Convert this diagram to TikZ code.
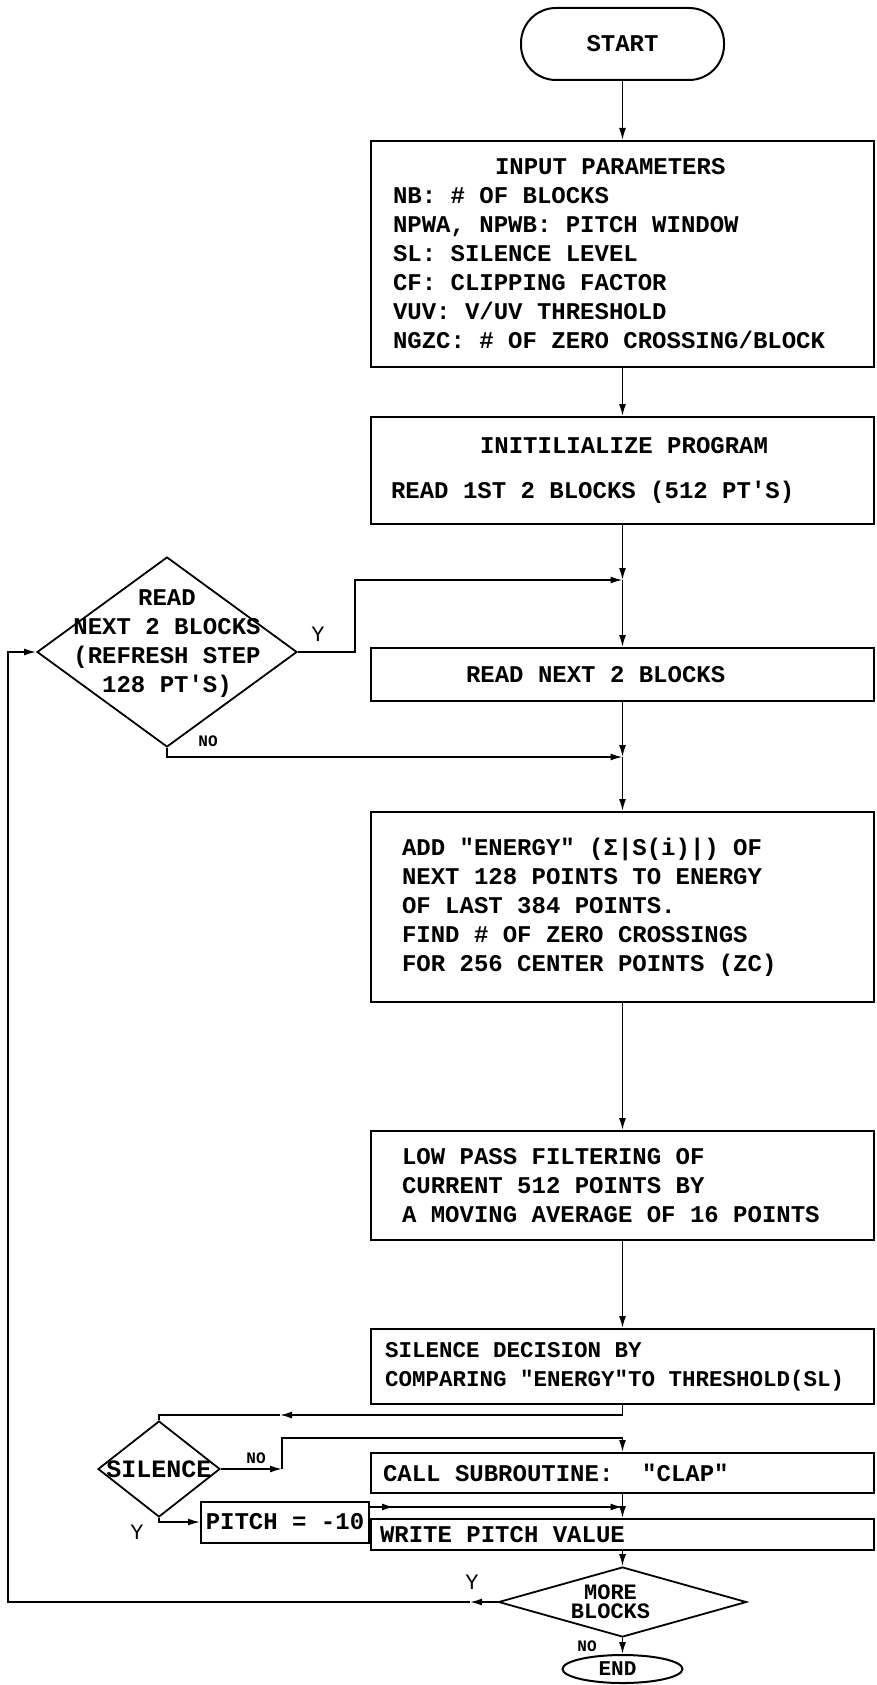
\documentclass[tikz,border=0pt]{standalone}
\usepackage{fontspec}
\setmonofont{Liberation Mono}
\usetikzlibrary{shapes.geometric,arrows.meta}

\tikzset{
  procbox/.style={draw, line width=2pt, rectangle, minimum width=503pt,
    inner xsep=0pt, inner ysep=1pt, align=left, text width=#1,
    execute at begin node={\spaceskip=0pt\xspaceskip=0pt\relax}},
  decision/.style={draw, line width=1.8pt, diamond, inner sep=0pt},
  dtext/.style={align=center, inner sep=0pt},
  flow/.style={line width=1.6pt},
  lbl/.style={font=\ttfamily\bfseries\fontsize{16}{16}\selectfont, inner sep=0pt},
  ylbl/.style={font=\ttfamily\fontsize{22}{22}\selectfont, inner sep=0pt}
}

\begin{document}
\begin{tikzpicture}[x=1pt, y=-1pt, >={Latex[length=12pt,width=7pt]},
    font=\ttfamily\bfseries\fontsize{24}{29}\selectfont]
    \useasboundingbox (0,0) rectangle (876,1685);

    % --- Main column of boxes ---
    \node[draw, line width=2pt, rounded corners=35pt, minimum width=203pt,
          minimum height=72pt] (start) at (622.5,44) {START};
    \node[procbox=459pt, minimum height=226pt] (input) at (622.5,254)
        {\hspace*{102pt}INPUT PARAMETERS\\
         NB: \# OF BLOCKS\\
         NPWA, NPWB: PITCH WINDOW\\
         SL: SILENCE LEVEL\\
         CF: CLIPPING FACTOR\\
         VUV: V/UV THRESHOLD\\
         NGZC: \# OF ZERO CROSSING/BLOCK};
    \node[procbox=463pt, minimum height=107pt] (init) at (622.5,470.5)
        {\hspace*{89pt}INITILIALIZE PROGRAM\\[16pt]
         READ 1ST 2 BLOCKS (512 PT'S)};
    \node[procbox=463pt, minimum height=53pt] (readnext) at (622.5,674.5)
        {\hspace*{75pt}READ NEXT 2 BLOCKS};
    \node[procbox=441pt, minimum height=190pt] (energy) at (622.5,907)
        {ADD "ENERGY" (Σ|S(i)|) OF\\
         NEXT 128 POINTS TO ENERGY\\
         OF LAST 384 POINTS.\\
         FIND \# OF ZERO CROSSINGS\\
         FOR 256 CENTER POINTS (ZC)};
    \node[procbox=441pt, minimum height=109pt] (lowpass) at (622.5,1185.5)
        {LOW PASS FILTERING OF\\
         CURRENT 512 POINTS BY\\
         A MOVING AVERAGE OF 16 POINTS};
    \node[procbox=475pt, minimum height=75pt,
          font=\ttfamily\bfseries\fontsize{22.5}{29}\selectfont] (sildec) at (622.5,1366.5)
        {SILENCE DECISION BY\\
         COMPARING "ENERGY"TO THRESHOLD(SL)};
    \node[procbox=479pt, minimum height=40pt] (clap) at (622.5,1473)
        {CALL SUBROUTINE:~~"CLAP"};
    \node[procbox=485pt, minimum height=31pt] (write) at (622.5,1534.5)
        {WRITE PITCH VALUE};

    % --- Decisions and side boxes ---
    \node[decision, minimum width=260pt, minimum height=190pt,
          label={[dtext, yshift=8pt]center:{READ\\NEXT 2 BLOCKS\\(REFRESH STEP\\128 PT'S)}}]
          (rdblk) at (167,652) {};
    \node[decision, minimum width=122pt, minimum height=96pt,
          label={[dtext, font=\ttfamily\bfseries\fontsize{25}{25}\selectfont]center:SILENCE}]
          (silence) at (159,1469) {};
    \node[draw, line width=2pt, minimum width=168pt, minimum height=41pt,
          inner sep=0pt] (pitch) at (285,1522) {PITCH = -10};
    \node[decision, minimum width=248pt, minimum height=70pt,
          label={[dtext, xshift=-12pt, font=\ttfamily\bfseries\fontsize{22}{19}\selectfont]center:{MORE\\BLOCKS}}]
          (more) at (622.5,1602) {};
    \node[draw, line width=2pt, ellipse, minimum width=120pt, minimum height=28pt,
          inner sep=0pt,
          label={[dtext, xshift=-5pt, font=\ttfamily\bfseries\fontsize{21}{21}\selectfont]center:END}]
          (endn) at (622.5,1669) {};

    % --- Junction points ---
    \coordinate (jy) at (622.5,580);
    \coordinate (jn) at (622.5,757);
    \coordinate (ksil) at (280,1415);
    \coordinate (kno) at (282,1469);
    \coordinate (jno) at (622.5,1438);
    \coordinate (jpitch) at (622.5,1507);
    \coordinate (kmore) at (470,1602);
    \coordinate (kloop) at (8,1602);

    % --- Connectors ---
    \draw[flow, ->] (start) -- (input);
    \draw[flow, ->] (input) -- (init);
    \draw[flow, ->] (init) -- (jy);
    \draw[flow, ->] (jy) -- (readnext);
    \draw[flow, ->] (rdblk.east) -- ++(57,0) |- (jy);
    \draw[flow, ->] (readnext) -- (jn);
    \draw[flow, ->] (rdblk.south) |- (jn);
    \draw[flow, ->] (jn) -- (energy);
    \draw[flow, ->] (energy) -- (lowpass);
    \draw[flow, ->] (lowpass) -- (sildec);
    \draw[flow, ->] (sildec.south) |- (ksil);
    \draw[flow] (ksil) -| (silence.north);
    \draw[flow, ->] (silence.east) -- (kno);
    \draw[flow, ->] (kno) |- (jno) -- (clap.north);
    \draw[flow, ->] (silence.south) |- (pitch.west);
    \draw[flow, ->] (pitch.east |- jpitch) -- ++(24,0);
    \draw[flow, ->] (pitch.east |- jpitch) -- (jpitch);
    \draw[flow, ->] (clap) -- (write);
    \draw[flow, ->] (write) -- (more);
    \draw[flow, ->] (more.west) -- (kmore);
    \draw[flow, ->] (kmore) -- (kloop) |- (rdblk.west);
    \draw[flow, ->] (more) -- (endn);

    % --- Branch labels ---
    \node[ylbl] (yread) at (318,634) {Y};
    \node[lbl] (nread) at (208,741) {NO};
    \node[lbl] (nsil) at (256,1458) {NO};
    \node[ylbl] (ysil) at (137,1532) {Y};
    \node[ylbl] (ymore) at (472,1582) {Y};
    \node[lbl] (nmore) at (587,1646) {NO};
\end{tikzpicture}
\end{document}
